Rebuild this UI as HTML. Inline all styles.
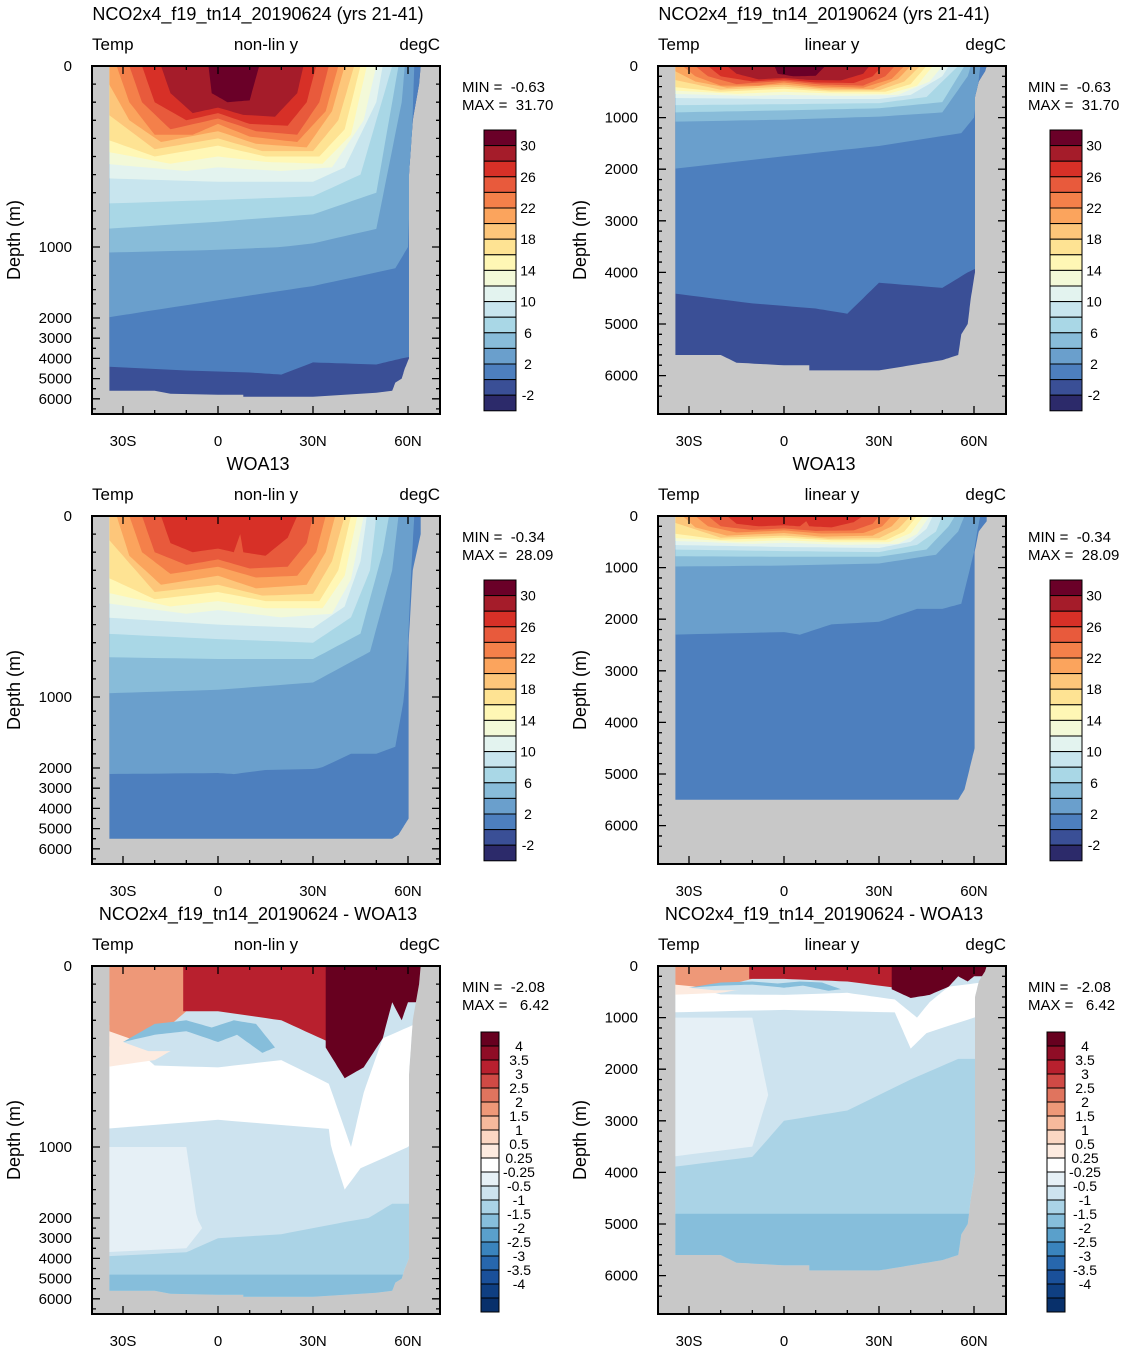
<!DOCTYPE html><html><head><meta charset="utf-8"><style>body{margin:0;background:#fff}svg{display:block}text{font-family:"Liberation Sans",Arial,sans-serif;fill:#000}</style></head><body>
<svg id="s" width="1130" height="1354" xmlns="http://www.w3.org/2000/svg"></svg>
<script>
const S=document.getElementById('s');let out='';
const TC=['#6a0028','#a51c2a','#d73027','#e85a3c','#f4804a','#fba45d','#fdc67a','#fee393','#fff7b5','#f3f9d8','#e3f3ef','#c8e5ee','#a9d7e6','#88bcd9','#6a9fcc','#4d7fbe','#3a4f96','#2c2a6a'];
const DC=['#67001f','#8f0d26','#b8202e','#d04a45','#e0745e','#ee9878','#f6b99c','#fbd7c3','#fdebe0','#ffffff','#e6f0f6','#cde3ef','#aad3e6','#86bedb','#5aa0cb','#3a84bd','#2767ad','#1a509a','#0f3f82','#08306b'];
function yNL(d){return d<=1000?d*0.181:d<=2000?181+(d-1000)*0.071:252+(d-2000)*0.0202;}
function yLin(d){return d*0.0516;}
function dens(pts){let r=[];for(let i=0;i<pts.length;i++){if(i==0){r.push(pts[0]);continue;}const a=pts[i-1],b=pts[i];for(let k=1;k<=8;k++){r.push([a[0]+(b[0]-a[0])*k/8,a[1]+(b[1]-a[1])*k/8]);}}return r;}
function poly(pts,X,Y,fill,extra){pts=dens(pts);return '<polygon points="'+pts.map(p=>X(p[0]).toFixed(1)+','+Y(p[1]).toFixed(1)).join(' ')+'" fill="'+fill+'" '+(extra||'')+'/>';}
function surf(pts){return [[pts[0][0],0]].concat(pts,[[pts[pts.length-1][0],0]]);}
const BIG=[[-40,0],[70,0],[70,7000],[-40,7000]];
const modelOcean=[[-34.3,0],[-34.3,5600],[-20,5600],[-15,5750],[0,5800],[8,5800],[8,5900],[30,5900],[40,5800],[50,5700],[55,5600],[56,5200],[58,5000],[59,4500],[60.3,4000],[60.3,600],[61.5,300],[63.5,100],[64,0]];
const modelL=[
[0,[[-3,0],[-2,150],[3,200],[10,190],[13,0]]],
[1,[[-18,0],[-15,150],[-8,260],[0,230],[8,270],[18,280],[25,150],[27,0]]],
[2,[[-24,0],[-20,200],[-10,300],[0,260],[10,320],[22,330],[28,200],[31,0]]],
[3,[[-28,0],[-24,200],[-15,350],[0,290],[12,360],[25,380],[32,200],[35,0]]],
[4,[[-32,0],[-28,200],[-20,380],[-8,380],[0,320],[10,390],[25,420],[34,250],[38,0]]],
[5,[[-36,50],[-28,300],[-18,420],[0,360],[12,430],[28,450],[36,250],[40,0]]],
[6,[[-36,250],[-20,460],[0,400],[14,470],[30,470],[38,300],[43,0]]],
[7,[[-36,400],[-20,500],[0,440],[15,500],[32,500],[40,350],[45,0]]],
[8,[[-36,470],[-15,540],[0,500],[15,530],[33,540],[42,380],[47,0]]],
[9,[[-36,540],[-10,580],[0,560],[20,580],[36,560],[46,300],[50,0]]],
[10,[[-36,620],[0,640],[30,640],[40,560],[50,200],[52,0]]],
[11,[[-36,760],[0,740],[30,720],[45,600],[55,0]]],
[12,[[-36,900],[0,860],[30,820],[50,700],[57,0]]],
[13,[[-36,1080],[0,1040],[30,980],[50,900],[58,200],[59,0]]],
[14,[[-36,2000],[0,1750],[30,1550],[56,1300],[60,1000],[61,500],[62,0]]],
[15,[[-36,4400],[-10,4600],[10,4700],[20,4800],[30,4200],[50,4300],[58,4000],[65,3800],[65,0]]]];
const woaOcean=[[-34.3,0],[-34.3,5500],[55,5500],[57,5300],[59,4800],[60.2,4500],[60.2,700],[61.5,300],[64,100],[64,0]];
const woaL=[
[2,[[-18,0],[-15,150],[-8,200],[0,180],[5,200],[7,100],[8,200],[15,220],[22,120],[25,0]]],
[3,[[-24,0],[-20,200],[-10,270],[0,240],[10,290],[22,280],[28,150],[30,0]]],
[4,[[-28,0],[-24,200],[-15,320],[0,280],[12,340],[25,330],[31,200],[34,0]]],
[5,[[-32,0],[-28,220],[-18,380],[0,330],[12,400],[28,380],[34,200],[37,0]]],
[6,[[-36,100],[-20,420],[0,380],[14,440],[30,430],[36,250],[40,0]]],
[7,[[-36,330],[-20,460],[0,420],[15,470],[32,470],[38,300],[42,0]]],
[8,[[-36,420],[-15,500],[0,470],[15,510],[33,510],[40,330],[44,0]]],
[9,[[-36,480],[-10,540],[0,520],[20,560],[36,540],[42,350],[46,0]]],
[10,[[-36,560],[0,600],[30,620],[40,500],[45,250],[47,0]]],
[11,[[-36,650],[0,680],[30,700],[42,560],[48,300],[50,0]]],
[12,[[-36,780],[0,790],[30,790],[45,650],[52,200],[54,0]]],
[13,[[-36,980],[0,960],[30,920],[48,750],[55,300],[57,0]]],
[14,[[-36,2300],[0,2250],[5,2300],[15,2100],[30,2050],[42,1800],[50,1800],[56,1700],[60,700],[61,300],[62,0]]]];
function drawT(ocean,layers,X,Y,id){let s='<clipPath id="'+id+'">'+poly(ocean,X,Y,'#000')+'</clipPath><g clip-path="url(#'+id+')">';
s+=poly(BIG,X,Y,layers===modelL?TC[16]:TC[15]);
for(let i=layers.length-1;i>=0;i--){s+=poly(surf(layers[i][1]),X,Y,TC[layers[i][0]]);}
return s+'</g>';}
const diffShapes=[
[12,[[-36,3900],[-10,3700],[0,3000],[20,2800],[40,2200],[55,1800],[65,1800],[65,7000],[-36,7000]]],
[13,[[-36,4800],[65,4800],[65,7000],[-36,7000]]],
[10,[[-36,1000],[-10,1000],[-5,2500],[-10,3500],[-36,3700]]],
[9,[[-36,300],[-20,550],[0,560],[20,520],[35,650],[42,1000],[46,700],[52,400],[65,300],[65,900],[45,1300],[40,1600],[35,900],[0,850],[-36,900]]],
[5,[[-36,0],[-36,450],[-20,400],[-10,250],[-10,0]]],
[8,[[-36,350],[-20,450],[-10,300],[-10,420],[-20,520],[-36,560]]],
[2,[[-11,0],[-11,250],[0,250],[20,300],[35,420],[35,0]]],
[0,[[34,0],[34,450],[40,620],[46,560],[52,400],[55,200],[58,300],[60,200],[65,200],[65,0]]],
[13,[[-30,420],[-20,320],[-10,300],[-2,340],[5,300],[12,320],[18,450],[14,480],[6,380],[0,420],[-10,400],[-22,420]]],
[11,[[-30,420],[-20,380],[-10,360],[0,420],[-8,470],[-22,470]]]];
function drawD(X,Y,id){let s='<clipPath id="'+id+'">'+poly(modelOcean,X,Y,'#000')+'</clipPath><g clip-path="url(#'+id+')">';
s+=poly(BIG,X,Y,DC[11]);
for(const [c,p] of diffShapes)s+=poly(p,X,Y,DC[c]);return s+'</g>';}
function txt(x,y,t,sz,anc){return '<text x="'+x+'" y="'+y+'" font-size="'+sz+'" text-anchor="'+(anc||'start')+'">'+t+'</text>';}
function panel(col,row){const x0=col?658:92,y0=66+row*450,W=348,H=348;const lin=col==1;
const X=lat=>x0+126+lat*3.1667;const Y=d=>y0+(lin?yLin(d):yNL(d));
let s='<rect x="'+x0+'" y="'+y0+'" width="'+W+'" height="'+H+'" fill="#c8c8c8"/>';
const id='c'+col+row;
if(row==0)s+=drawT(modelOcean,modelL,X,Y,id);else if(row==1)s+=drawT(woaOcean,woaL,X,Y,id);else s+=drawD(X,Y,id);
s+='<rect x="'+x0+'" y="'+y0+'" width="'+W+'" height="'+H+'" fill="none" stroke="#000" stroke-width="2"/>';
let tk='';const majD=[0,1000,2000,3000,4000,5000,6000];
for(const d of majD){const y=Y(d);tk+='M'+x0+' '+y+'h8M'+(x0+W)+' '+y+'h-8';s+=txt(x0-20,y+5,d,15,'end');}
const minD=lin?Array.from({length:33},(_,i)=>i*200):[100,200,300,400,500,600,700,800,900,1200,1400,1600,1800,2500,3500,4500,5500,6500];
for(const d of minD){const y=Y(d);if(y<y0+H)tk+='M'+x0+' '+y+'h4M'+(x0+W)+' '+y+'h-4';}
const lb={'-30':'30S','0':'0','30':'30N','60':'60N'};
for(let l=-40;l<=70;l+=10){const x=X(l);if(x<x0||x>x0+W)continue;const m=l%30==0;tk+='M'+x+' '+(y0+H)+'v-'+(m?8:4)+'M'+x+' '+y0+'v'+(m?8:4);if(m)s+=txt(x,y0+H+32,lb[l],15,'middle');}
s+='<path d="'+tk+'" stroke="#000" stroke-width="1.3"/>';
s+=txt(x0,y0-16,'Temp',17)+txt(x0+W/2,y0-16,lin?'linear y':'non-lin y',17,'middle')+txt(x0+W,y0-16,'degC',17,'end');
const title=row==0?'NCO2x4_f19_tn14_20190624 (yrs 21-41)':row==1?'WOA13':'NCO2x4_f19_tn14_20190624 - WOA13';
s+=txt(x0+W/2-8,y0-46,title,18,'middle');
s+='<text x="'+(x0-72)+'" y="'+(y0+174)+'" font-size="18" text-anchor="middle" transform="rotate(-90 '+(x0-72)+' '+(y0+174)+')">Depth (m)</text>';
const mm=row==0?['-0.63','31.70']:row==1?['-0.34','28.09']:['-2.08',' 6.42'];
s+='<text x="'+(x0+370)+'" y="'+(y0+26)+'" font-size="15" xml:space="preserve">MIN =  '+mm[0]+'</text><text x="'+(x0+370)+'" y="'+(y0+44)+'" font-size="15" xml:space="preserve">MAX =  '+mm[1]+'</text>';
const cx=x0+(row==2?389:392);
if(row<2){for(let k=0;k<18;k++)s+='<rect x="'+cx+'" y="'+(y0+64+k*15.6)+'" width="32" height="15.6" fill="'+TC[k]+'" stroke="#000" stroke-width="1"/>';
for(let k=1;k<=17;k+=2)s+=txt(cx+44,y0+64+k*15.6+5,String(32-2*k),14,'middle');}
else{
for(let k=0;k<20;k++)s+='<rect x="'+cx+'" y="'+(y0+66+k*14)+'" width="18" height="14" fill="'+DC[k]+'" stroke="#000" stroke-width="1"/>';
const L2=['4','3.5','3','2.5','2','1.5','1','0.5','0.25','-0.25','-0.5','-1','-1.5','-2','-2.5','-3','-3.5','-4','-4.5'];
for(let k=1;k<=18;k++)s+=txt(cx+38,y0+66+k*14+5,L2[k-1],14,'middle');}
return s;}
for(let r=0;r<3;r++)for(let c=0;c<2;c++)out+=panel(c,r);
S.innerHTML=out;
</script></body></html>
